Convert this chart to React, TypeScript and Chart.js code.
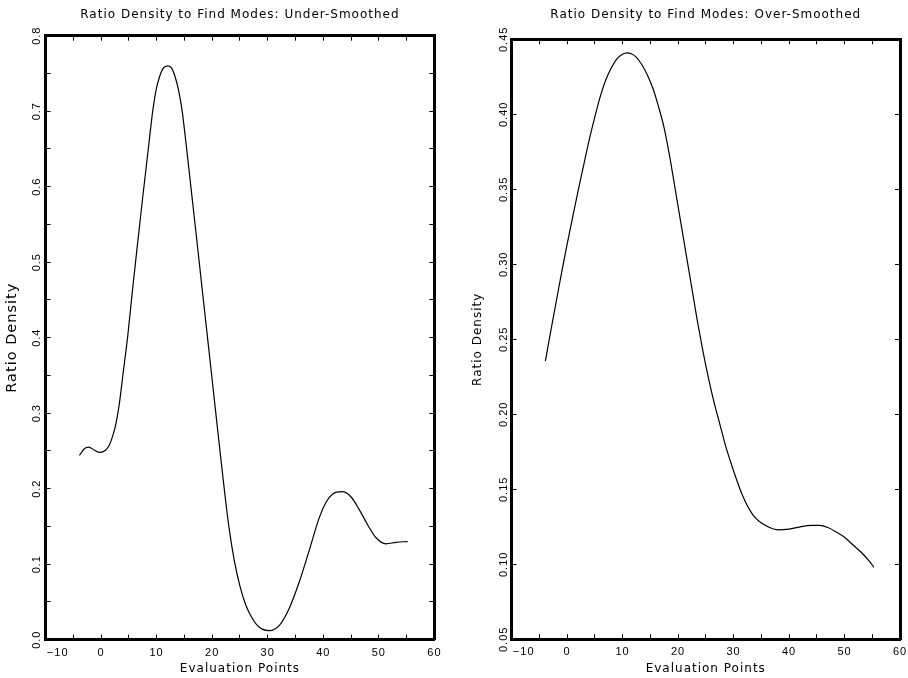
import React, { useEffect, useRef } from 'react';
import { Chart, registerables } from 'chart.js';

Chart.register(...registerables);
Chart.defaults.font.family = "'DejaVu Sans', sans-serif";
Chart.defaults.color = '#000';

// ---------- data ----------
const underX = [
  -3.9, -3.0, -2.2, -1.2, -0.2, 0.8, 1.5, 2.1, 2.7, 3.3, 3.9, 4.8, 5.6, 6.5, 7.5, 8.5, 9.3, 9.9,
  10.5, 11.2, 12.0, 12.7, 13.4, 14.0, 14.6, 15.3, 16.0, 17.0, 18.0, 19.0, 20.0, 21.0, 22.0, 23.0,
  24.0, 25.0, 26.0, 27.0, 28.0, 29.0, 30.3, 32.1, 33.9, 35.7, 37.5, 39.3, 40.5, 41.7, 43.4, 45.0,
  46.5, 48.0, 49.5, 51.3, 53.1, 55.2,
];
const underY = [
  0.244, 0.253, 0.255, 0.251, 0.248, 0.251, 0.258, 0.27, 0.287, 0.313, 0.349, 0.402, 0.459, 0.52,
  0.586, 0.65, 0.7, 0.728, 0.745, 0.757, 0.76, 0.757, 0.744, 0.726, 0.7, 0.657, 0.611, 0.545,
  0.478, 0.411, 0.344, 0.277, 0.211, 0.15, 0.104, 0.071, 0.047, 0.031, 0.02, 0.014, 0.012, 0.019,
  0.042, 0.077, 0.119, 0.162, 0.182, 0.193, 0.196, 0.189, 0.172, 0.152, 0.135, 0.127, 0.129, 0.13,
];

const overX = [
  -3.9, -3.0, -2.0, -1.0, 0.0, 1.0, 2.0, 3.0, 4.0, 5.0, 6.0, 7.0, 8.0, 9.0, 10.0, 10.8, 11.5, 12.5,
  13.5, 14.5, 15.5, 16.5, 17.5, 18.5, 19.5, 20.5, 21.5, 22.5, 23.5, 24.5, 25.5, 26.5, 27.5, 28.5,
  29.5, 30.5, 31.5, 32.5, 33.5, 34.5, 35.5, 36.5, 38.0, 40.0, 42.0, 44.0, 45.5, 47.0, 48.5, 50.0,
  51.5, 53.0, 54.5, 55.3,
];
const overY = [
  0.2355, 0.254, 0.274, 0.294, 0.313, 0.331, 0.349, 0.366, 0.383, 0.398, 0.412, 0.423, 0.431,
  0.437, 0.44, 0.441, 0.4405, 0.438, 0.433, 0.426, 0.417, 0.405, 0.391, 0.372, 0.35, 0.328, 0.306,
  0.284, 0.262, 0.242, 0.224, 0.208, 0.194, 0.18, 0.168, 0.157, 0.147, 0.139, 0.133, 0.129, 0.1265,
  0.1245, 0.123, 0.1235, 0.125, 0.126, 0.126, 0.1245, 0.1215, 0.118, 0.113, 0.108, 0.102, 0.098,
];

const xLabelValues = [-10, 0, 10, 20, 30, 40, 50, 60];
const xLabels = ['−10', '0', '10', '20', '30', '40', '50', '60'];

const underYLabelValues = [0, 0.1, 0.2, 0.3, 0.4, 0.5, 0.6, 0.7, 0.8];
const underYLabels = ['0.0', '0.1', '0.2', '0.3', '0.4', '0.5', '0.6', '0.7', '0.8'];

const overYLabelValues = [0.05, 0.1, 0.15, 0.2, 0.25, 0.3, 0.35, 0.4, 0.45];
const overYLabels = ['0.05', '0.10', '0.15', '0.20', '0.25', '0.30', '0.35', '0.40', '0.45'];

// ---------- helpers ----------
const TICK_FONT = { family: "'Liberation Sans', sans-serif", size: 11 };

function lookup(values: number[], labels: string[], v: number): string {
  for (let i = 0; i < values.length; i++) {
    if (Math.abs(values[i] - v) < 1e-6) return labels[i];
  }
  return '';
}

const spacingPlugin = {
  id: 'letterSpacing',
  beforeUpdate(chart: any) {
    chart.ctx.letterSpacing = '1px';
  },
  beforeDraw(chart: any) {
    chart.ctx.letterSpacing = '1px';
  },
};

interface Cfg {
  title: string;
  xs: number[];
  ys: number[];
  yMin: number;
  yMax: number;
  yLabelValues: number[];
  yLabels: string[];
  yTitleSize: number;
  yTitlePad: number;
  yTickPad: number;
  leftWidth: number;
  rightPad: number;
  titleBottom: number;
  bottomHeight: number;
}

function makeConfig(c: Cfg): any {
  const gridOpts = {
    drawOnChartArea: false,
    drawTicks: true,
    tickLength: -5,
    color: '#000',
    lineWidth: 1,
  };
  const borderOpts = { display: true, color: '#000', width: 3 };
  return {
    type: 'line',
    data: {
      datasets: [
        {
          data: c.xs.map((x, i) => ({ x, y: c.ys[i] })),
          borderColor: '#000',
          borderWidth: 1.2,
          pointRadius: 0,
          fill: false,
          cubicInterpolationMode: 'monotone',
        },
      ],
    },
    options: {
      responsive: false,
      animation: false,
      layout: { padding: { left: 0, right: c.rightPad, top: 0, bottom: 0 } },
      plugins: {
        legend: { display: false },
        tooltip: { enabled: false },
        title: {
          display: true,
          text: c.title,
          fullSize: false,
          color: '#000',
          font: { size: 12, weight: 'normal' },
          padding: { top: 7.8, bottom: c.titleBottom },
        },
      },
      scales: {
        x: {
          type: 'linear',
          position: 'bottom',
          min: -10,
          max: 60,
          ticks: {
            stepSize: 5,
            autoSkip: false,
            minRotation: 0,
            maxRotation: 0,
            padding: 11.5,
            color: '#000',
            font: TICK_FONT,
            callback: (v: number) => {
              const s = lookup(xLabelValues, xLabels, v);
              return v === xLabelValues[0] ? '      ' + s : s;
            },
          },
          grid: gridOpts,
          border: borderOpts,
          title: {
            display: true,
            text: 'Evaluation Points',
            color: '#000',
            font: { size: 12 },
            padding: { top: 0, bottom: 2 },
          },
          afterFit: (s: any) => {
            s.height = c.bottomHeight;
            s.paddingLeft = 0;
            s.paddingRight = 0;
          },
        },
        x2: {
          type: 'linear',
          position: 'top',
          min: -10,
          max: 60,
          ticks: { stepSize: 5, display: false, autoSkip: false },
          grid: gridOpts,
          border: borderOpts,
          afterFit: (s: any) => {
            s.height = 0;
          },
        },
        y: {
          type: 'linear',
          position: 'left',
          min: c.yMin,
          max: c.yMax,
          ticks: {
            stepSize: 0.05,
            autoSkip: false,
            minRotation: 90,
            maxRotation: 90,
            crossAlign: 'center',
            padding: c.yTickPad,
            color: '#000',
            font: TICK_FONT,
            callback: (v: number) => lookup(c.yLabelValues, c.yLabels, v),
          },
          grid: gridOpts,
          border: borderOpts,
          title: {
            display: true,
            text: 'Ratio Density',
            color: '#000',
            font: { size: c.yTitleSize },
            padding: { top: c.yTitlePad, bottom: 0 },
          },
          afterFit: (s: any) => {
            s.width = c.leftWidth;
            s.paddingTop = 0;
            s.paddingBottom = 0;
          },
        },
        y2: {
          type: 'linear',
          position: 'right',
          min: c.yMin,
          max: c.yMax,
          ticks: { stepSize: 0.05, display: false, autoSkip: false },
          grid: gridOpts,
          border: borderOpts,
          afterFit: (s: any) => {
            s.width = 0;
          },
        },
      },
    },
    plugins: [spacingPlugin],
  };
}

function Panel({ cfg }: { cfg: Cfg }) {
  const ref = useRef<HTMLCanvasElement | null>(null);
  useEffect(() => {
    if (!ref.current) return;
    const chart = new Chart(ref.current, makeConfig(cfg));
    return () => chart.destroy();
  }, [cfg]);
  return <canvas ref={ref} width={454} height={678} style={{ display: 'block', width: 454, height: 678 }} />;
}

const leftCfg: Cfg = {
  title: 'Ratio Density to Find Modes: Under-Smoothed',
  xs: underX,
  ys: underY,
  yMin: 0,
  yMax: 0.8,
  yLabelValues: underYLabelValues,
  yLabels: underYLabels,
  yTitleSize: 14.5,
  yTitlePad: 3.5,
  yTickPad: 4,
  leftWidth: 45.5,
  rightPad: 19.6,
  titleBottom: 13.5,
  bottomHeight: 38.3,
};

const rightCfg: Cfg = {
  title: 'Ratio Density to Find Modes: Over-Smoothed',
  xs: overX,
  ys: overY,
  yMin: 0.05,
  yMax: 0.45,
  yLabelValues: overYLabelValues,
  yLabels: overYLabels,
  yTitleSize: 12,
  yTitlePad: 16.6,
  yTickPad: -0.5,
  leftWidth: 57.5,
  rightPad: 8,
  titleBottom: 17.1,
  bottomHeight: 38.7,
};

export default function App() {
  return (
    <div
      style={{
        position: 'absolute',
        left: 0,
        top: 0,
        width: 908,
        height: 678,
        display: 'flex',
        background: '#fff',
      }}
    >
      <Panel cfg={leftCfg} />
      <Panel cfg={rightCfg} />
    </div>
  );
}
